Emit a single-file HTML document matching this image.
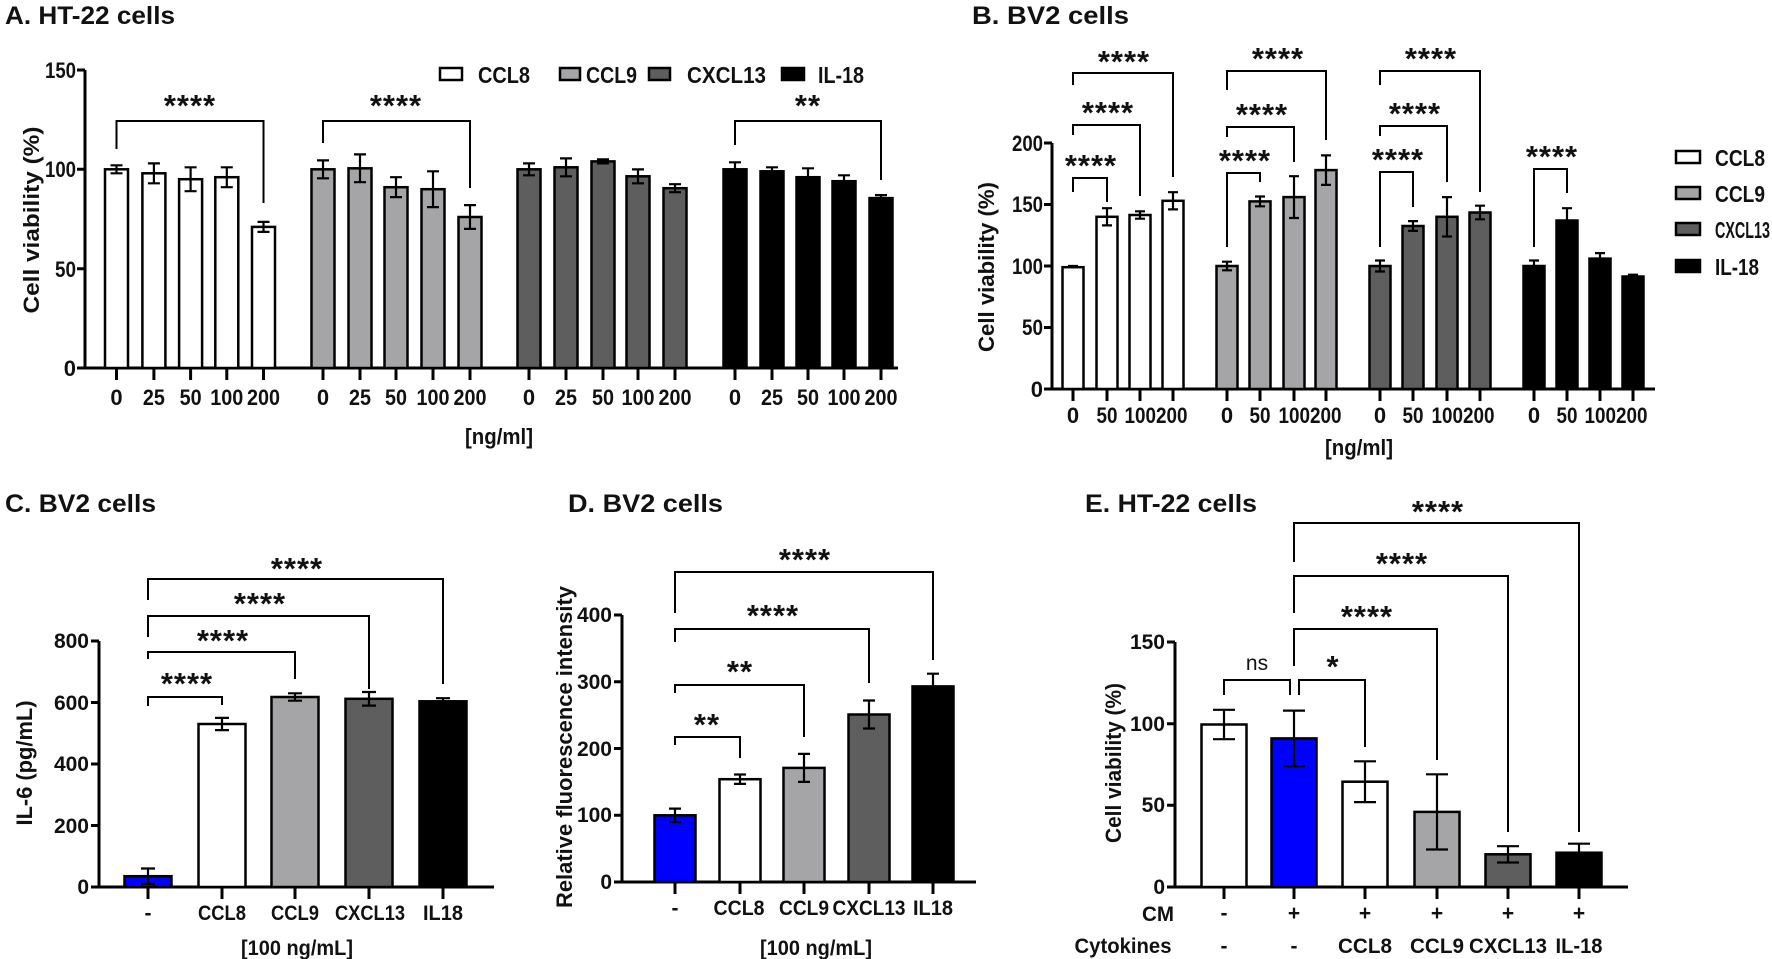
<!DOCTYPE html>
<html><head><meta charset="utf-8"><style>
html,body{margin:0;padding:0;background:#fff;}
svg{display:block;}
text{font-family:"Liberation Sans",sans-serif;font-weight:bold;fill:#111;}
.t{font-size:25px;}
.tk{font-size:22px;text-anchor:middle;}
.tk2{font-size:21px;text-anchor:middle;}
.yl{font-size:22px;text-anchor:end;}
.yl2{font-size:21px;text-anchor:end;}
.ax{font-size:22px;text-anchor:middle;}
.st{font-size:31px;letter-spacing:1px;text-anchor:middle;}
.lg{font-size:23px;}
line,path{stroke:#000;fill:none;}
.a{stroke-width:3;}
.b{stroke-width:2;}
.e{stroke-width:2.2;}
rect{stroke:#000;stroke-width:2.5;}
.w{fill:#fff}.g{fill:#a5a5a7}.d{fill:#5e5e5e}.k{fill:#000}.bl{fill:#0000ff}
</style></head><body>
<svg width="1772" height="959" viewBox="0 0 1772 959" xmlns="http://www.w3.org/2000/svg">
<!-- ===== Panel A ===== -->
<text class="t" x="5" y="24" textLength="170" lengthAdjust="spacingAndGlyphs">A.  HT-22 cells</text>
<path class="a" d="M85,70 V368 H898"/>
<path class="a" d="M77,70H85 M77,169.3H85 M77,268.7H85 M77,368H85"/>
<text class="yl" x="76" y="78" textLength="31" lengthAdjust="spacingAndGlyphs">150</text><text class="yl" x="76" y="177" textLength="31" lengthAdjust="spacingAndGlyphs">100</text><text class="yl" x="76" y="277" textLength="21" lengthAdjust="spacingAndGlyphs">50</text><text class="yl" x="76" y="376">0</text>
<text class="ax" transform="translate(39,220) rotate(-90)" textLength="187" lengthAdjust="spacingAndGlyphs">Cell viability (%)</text>
<rect class="w" x="105" y="169.3" width="23" height="198.7"/><rect class="w" x="142.4" y="173.3" width="23" height="194.7"/><rect class="w" x="179.1" y="179.2" width="23" height="188.8"/><rect class="w" x="215.3" y="177.2" width="23" height="190.8"/><rect class="w" x="252" y="226.9" width="23" height="141.1"/>
<rect class="g" x="311.5" y="169.3" width="23" height="198.7"/><rect class="g" x="348.5" y="168.3" width="23" height="199.7"/><rect class="g" x="384.5" y="187.2" width="23" height="180.8"/><rect class="g" x="421.5" y="189.2" width="23" height="178.8"/><rect class="g" x="458.5" y="217" width="23" height="151"/>
<rect class="d" x="517.5" y="169.3" width="23" height="198.7"/><rect class="d" x="554.5" y="167.3" width="23" height="200.7"/><rect class="d" x="591.5" y="161.4" width="23" height="206.6"/><rect class="d" x="626.5" y="176.3" width="23" height="191.7"/><rect class="d" x="663.5" y="188.2" width="23" height="179.8"/>
<rect class="k" x="723.5" y="169.3" width="23" height="198.7"/><rect class="k" x="760.5" y="171.3" width="23" height="196.7"/><rect class="k" x="796.5" y="177.2" width="23" height="190.8"/><rect class="k" x="832.5" y="181.2" width="23" height="186.8"/><rect class="k" x="869.5" y="198.1" width="23" height="169.9"/>
<path class="e" d="M116.5,165.3V173.3M110.5,165.3H122.5M110.5,173.3H122.5 M153.9,163.4V183.3M147.9,163.4H159.9M147.9,183.3H159.9 M190.6,167.3V191.2M184.6,167.3H196.6M184.6,191.2H196.6 M226.8,167.3V187.2M220.8,167.3H232.8M220.8,187.2H232.8 M263.5,221.9V231.9M257.5,221.9H269.5M257.5,231.9H269.5
M323,160.4V178.3M317,160.4H329M317,178.3H329 M360,154.4V182.2M354,154.4H366M354,182.2H366 M396,177.2V197.1M390,177.2H402M390,197.1H402 M433,171.3V207.1M427,171.3H439M427,207.1H439 M470,205.1V228.9M464,205.1H476M464,228.9H476
M529,163.4V175.3M523,163.4H535M523,175.3H535 M566,158.4V176.3M560,158.4H572M560,176.3H572 M603,159.4V163.4M597,159.4H609M597,163.4H609 M638,169.4V183.3M632,169.4H644M632,183.3H644 M675,184.2V192.2M669,184.2H681M669,192.2H681
M735,162.3V176.3M729,162.3H741 M772,167.3V175.3M766,167.3H778 M808,168.3V186.2M802,168.3H814 M844,175.3V187.2M838,175.3H850 M881,195.1V201.1M875,195.1H887"/>
<path class="a" d="M116.5,368V380M153.9,368V380M190.6,368V380M226.8,368V380M263.5,368V380M323,368V380M360,368V380M396,368V380M433,368V380M470,368V380M529,368V380M566,368V380M603,368V380M638,368V380M675,368V380M735,368V380M772,368V380M808,368V380M844,368V380M881,368V380"/>
<g class="tk"><text x="116.5" y="405">0</text><text x="153.9" y="405" textLength="22" lengthAdjust="spacingAndGlyphs">25</text><text x="190.6" y="405" textLength="22" lengthAdjust="spacingAndGlyphs">50</text><text x="226.8" y="405" textLength="33" lengthAdjust="spacingAndGlyphs">100</text><text x="263.5" y="405" textLength="33" lengthAdjust="spacingAndGlyphs">200</text>
<text x="323" y="405">0</text><text x="360" y="405" textLength="22" lengthAdjust="spacingAndGlyphs">25</text><text x="396" y="405" textLength="22" lengthAdjust="spacingAndGlyphs">50</text><text x="433" y="405" textLength="33" lengthAdjust="spacingAndGlyphs">100</text><text x="470" y="405" textLength="33" lengthAdjust="spacingAndGlyphs">200</text>
<text x="529" y="405">0</text><text x="566" y="405" textLength="22" lengthAdjust="spacingAndGlyphs">25</text><text x="603" y="405" textLength="22" lengthAdjust="spacingAndGlyphs">50</text><text x="638" y="405" textLength="33" lengthAdjust="spacingAndGlyphs">100</text><text x="675" y="405" textLength="33" lengthAdjust="spacingAndGlyphs">200</text>
<text x="735" y="405">0</text><text x="772" y="405" textLength="22" lengthAdjust="spacingAndGlyphs">25</text><text x="808" y="405" textLength="22" lengthAdjust="spacingAndGlyphs">50</text><text x="844" y="405" textLength="33" lengthAdjust="spacingAndGlyphs">100</text><text x="881" y="405" textLength="33" lengthAdjust="spacingAndGlyphs">200</text>
<text x="499" y="444" textLength="68" lengthAdjust="spacingAndGlyphs">[ng/ml]</text></g>
<path class="b" d="M116.5,149V121H263.5V203 M323,143V121H470V188 M735,145V121H881V180"/>
<text class="st" x="190" y="116">****</text><text class="st" x="396" y="116">****</text><text class="st" x="808" y="116">**</text>
<rect class="w" x="440" y="68" width="22" height="12"/><text class="lg" x="478" y="83" textLength="52" lengthAdjust="spacingAndGlyphs">CCL8</text>
<rect class="g" x="560" y="68" width="20" height="12"/><text class="lg" x="586" y="83" textLength="51" lengthAdjust="spacingAndGlyphs">CCL9</text>
<rect class="d" x="649" y="68" width="21" height="12"/><text class="lg" x="687" y="83" textLength="79" lengthAdjust="spacingAndGlyphs">CXCL13</text>
<rect class="k" x="782" y="68" width="22" height="12"/><text class="lg" x="818" y="83" textLength="46" lengthAdjust="spacingAndGlyphs">IL-18</text>

<!-- ===== Panel B ===== -->
<text class="t" x="972" y="24" textLength="157" lengthAdjust="spacingAndGlyphs">B.  BV2 cells</text>
<path class="a" d="M1052,143V389H1655"/>
<path class="a" d="M1044,143H1052M1044,204.5H1052M1044,266H1052M1044,327.5H1052M1044,389H1052"/>
<g class="yl"><text x="1043" y="151" textLength="31" lengthAdjust="spacingAndGlyphs">200</text><text x="1043" y="212" textLength="31" lengthAdjust="spacingAndGlyphs">150</text><text x="1043" y="274" textLength="31" lengthAdjust="spacingAndGlyphs">100</text><text x="1043" y="335" textLength="21" lengthAdjust="spacingAndGlyphs">50</text><text x="1043" y="397">0</text></g>
<text class="ax" transform="translate(994,267) rotate(-90)" textLength="170" lengthAdjust="spacingAndGlyphs">Cell viability (%)</text>
<rect class="w" x="1062.5" y="267.2" width="21" height="121.8"/><rect class="w" x="1096.5" y="216.8" width="21" height="172.2"/><rect class="w" x="1129.5" y="215" width="21" height="174"/><rect class="w" x="1162.5" y="200.8" width="21" height="188.2"/>
<rect class="g" x="1216.5" y="266" width="21" height="123"/><rect class="g" x="1249.5" y="201.4" width="21" height="187.6"/><rect class="g" x="1283.5" y="197.1" width="21" height="191.9"/><rect class="g" x="1315.5" y="170.1" width="21" height="218.9"/>
<rect class="d" x="1369.5" y="266" width="21" height="123"/><rect class="d" x="1402.5" y="226" width="21" height="163"/><rect class="d" x="1436.5" y="216.8" width="21" height="172.2"/><rect class="d" x="1469.5" y="212.5" width="21" height="176.5"/>
<rect class="k" x="1523.5" y="266" width="21" height="123"/><rect class="k" x="1556.5" y="220.5" width="21" height="168.5"/><rect class="k" x="1589.5" y="258.6" width="21" height="130.4"/><rect class="k" x="1622.5" y="276.5" width="21" height="112.5"/>
<path class="e" d="M1073,266V268.4M1068,266H1078 M1107,208.2V225.4M1102,208.2H1112M1102,225.4H1112 M1140,211.3V218.7M1135,211.3H1145M1135,218.7H1145 M1173,192.2V209.4M1168,192.2H1178M1168,209.4H1178
M1227,261.7V270.3M1222,261.7H1232M1222,270.3H1232 M1260,196.5V206.3M1255,196.5H1265M1255,206.3H1265 M1294,176.2V218M1289,176.2H1299M1289,218H1299 M1326,155.4V184.9M1321,155.4H1331M1321,184.9H1331
M1380,260.5V271.5M1375,260.5H1385M1375,271.5H1385 M1413,221.1V230.9M1408,221.1H1418M1408,230.9H1418 M1447,197.1V236.5M1442,197.1H1452M1442,236.5H1452 M1480,205.7V219.3M1475,205.7H1485M1475,219.3H1485
M1534,260.5V266M1529,260.5H1539 M1567,208.2V220.5M1562,208.2H1572 M1600,253.1V258.6M1595,253.1H1605 M1633,274.7V276.5M1628,274.7H1638"/>
<path class="a" d="M1073,389V401M1107,389V401M1140,389V401M1173,389V401M1227,389V401M1260,389V401M1294,389V401M1326,389V401M1380,389V401M1413,389V401M1447,389V401M1480,389V401M1534,389V401M1567,389V401M1600,389V401M1633,389V401"/>
<g class="tk"><text x="1073" y="423">0</text><text x="1107" y="423" textLength="21" lengthAdjust="spacingAndGlyphs">50</text><text x="1156" y="423" textLength="63" lengthAdjust="spacingAndGlyphs">100200</text>
<text x="1227" y="423">0</text><text x="1260" y="423" textLength="21" lengthAdjust="spacingAndGlyphs">50</text><text x="1310" y="423" textLength="63" lengthAdjust="spacingAndGlyphs">100200</text>
<text x="1380" y="423">0</text><text x="1413" y="423" textLength="21" lengthAdjust="spacingAndGlyphs">50</text><text x="1463" y="423" textLength="63" lengthAdjust="spacingAndGlyphs">100200</text>
<text x="1534" y="423">0</text><text x="1567" y="423" textLength="21" lengthAdjust="spacingAndGlyphs">50</text><text x="1616" y="423" textLength="63" lengthAdjust="spacingAndGlyphs">100200</text>
<text x="1359" y="455" textLength="68" lengthAdjust="spacingAndGlyphs">[ng/ml]</text></g>
<path class="b" d="M1073,192V178H1107V202 M1073,135V125H1140V196 M1073,85V73H1173V177
M1227,247V173H1260V182 M1227,137V127H1294V162 M1227,90V71H1326V140
M1380,247V172H1413V207 M1380,136V126H1447V182 M1380,85V71H1480V192
M1534,247V169H1567V193"/>
<g class="st"><text x="1091" y="176">****</text><text x="1108" y="123">****</text><text x="1124" y="72">****</text>
<text x="1245" y="171">****</text><text x="1262" y="125">****</text><text x="1278" y="69">****</text>
<text x="1398" y="170">****</text><text x="1415" y="124">****</text><text x="1431" y="69">****</text>
<text x="1552" y="167">****</text></g>
<rect class="w" x="1676" y="151" width="24" height="12"/><text class="lg" x="1715" y="166" textLength="50" lengthAdjust="spacingAndGlyphs">CCL8</text>
<rect class="g" x="1676" y="187" width="24" height="12"/><text class="lg" x="1715" y="202" textLength="50" lengthAdjust="spacingAndGlyphs">CCL9</text>
<rect class="d" x="1676" y="223" width="24" height="12"/><text class="lg" x="1715" y="238" textLength="55" lengthAdjust="spacingAndGlyphs">CXCL13</text>
<rect class="k" x="1676" y="260" width="24" height="12"/><text class="lg" x="1715" y="275" textLength="44" lengthAdjust="spacingAndGlyphs">IL-18</text>

<!-- ===== Panel C ===== -->
<text class="t" x="5" y="512" textLength="151" lengthAdjust="spacingAndGlyphs">C.  BV2 cells</text>
<path class="a" d="M99,641V887H494"/>
<path class="a" d="M91,641H99M91,702.5H99M91,764H99M91,825.5H99M91,887H99"/>
<g class="yl2"><text x="89" y="648">800</text><text x="89" y="710">600</text><text x="89" y="771">400</text><text x="89" y="833">200</text><text x="89" y="894">0</text></g>
<text class="ax" transform="translate(32,763) rotate(-90)" textLength="125" lengthAdjust="spacingAndGlyphs">IL-6 (pg/mL)</text>
<rect class="bl" x="124.5" y="876.2" width="47" height="10.8"/><rect class="w" x="198.5" y="724" width="47" height="163"/><rect class="g" x="271.5" y="697" width="47" height="190"/><rect class="d" x="345.5" y="698.8" width="47" height="188.2"/><rect class="k" x="419.5" y="701.3" width="47" height="185.7"/>
<path class="e" d="M148,868.5V883.9M141,868.5H155M141,883.9H155 M222,717.9V730.1M215,717.9H229M215,730.1H229 M295,693.3V700.7M288,693.3H302M288,700.7H302 M369,692V705.6M362,692H376M362,705.6H376 M443,698.2V701.3M436,698.2H450"/>
<path class="a" d="M148,887V899M222,887V899M295,887V899M369,887V899M443,887V899"/>
<g class="tk2"><text x="148" y="920">-</text><text x="222" y="920" textLength="48" lengthAdjust="spacingAndGlyphs">CCL8</text><text x="295" y="920" textLength="48" lengthAdjust="spacingAndGlyphs">CCL9</text><text x="370" y="920" textLength="70" lengthAdjust="spacingAndGlyphs">CXCL13</text><text x="443" y="920" textLength="40" lengthAdjust="spacingAndGlyphs">IL18</text><text x="297" y="955" textLength="112" lengthAdjust="spacingAndGlyphs">[100 ng/mL]</text></g>
<path class="b" d="M148,706V697H222V705 M148,659V652H295V679 M148,637V616H369V689 M148,600V579H443V684"/>
<g class="st"><text x="187" y="694">****</text><text x="223" y="651">****</text><text x="260" y="614">****</text><text x="297" y="579">****</text></g>

<!-- ===== Panel D ===== -->
<text class="t" x="568" y="512" textLength="155" lengthAdjust="spacingAndGlyphs">D.  BV2 cells</text>
<path class="a" d="M622,615V882H976"/>
<path class="a" d="M614,615H622M614,681.75H622M614,748.5H622M614,815.25H622M614,882H622"/>
<g class="yl2"><text x="612" y="622">400</text><text x="612" y="689">300</text><text x="612" y="756">200</text><text x="612" y="822">100</text><text x="612" y="889">0</text></g>
<text class="ax" transform="translate(572,747) rotate(-90)" textLength="322" lengthAdjust="spacingAndGlyphs">Relative fluorescence intensity</text>
<rect class="bl" x="654.5" y="815.3" width="41" height="66.7"/><rect class="w" x="719.5" y="779.2" width="41" height="102.8"/><rect class="g" x="783.5" y="767.9" width="41" height="114.1"/><rect class="d" x="848.5" y="714.5" width="41" height="167.5"/><rect class="k" x="912.5" y="686.4" width="41" height="195.6"/>
<path class="e" d="M675,808.6V822M669,808.6H681M669,822H681 M740,774.5V783.9M734,774.5H746M734,783.9H746 M804,753.9V781.9M798,753.9H810M798,781.9H810 M869,700.5V728.5M863,700.5H875M863,728.5H875 M933,673.7V686.4M927,673.7H939"/>
<path class="a" d="M675,882V894M740,882V894M804,882V894M869,882V894M933,882V894"/>
<g class="tk2"><text x="675" y="915">-</text><text x="739" y="915" textLength="51" lengthAdjust="spacingAndGlyphs">CCL8</text><text x="804" y="915" textLength="50" lengthAdjust="spacingAndGlyphs">CCL9</text><text x="869" y="915" textLength="73" lengthAdjust="spacingAndGlyphs">CXCL13</text><text x="933" y="915" textLength="40" lengthAdjust="spacingAndGlyphs">IL18</text><text x="816" y="955" textLength="112" lengthAdjust="spacingAndGlyphs">[100 ng/mL]</text></g>
<path class="b" d="M675,745V737H740V758 M675,693V685H804V737 M675,642V629H869V683 M675,613V572H933V660"/>
<g class="st"><text x="707" y="735">**</text><text x="740" y="682">**</text><text x="773" y="626">****</text><text x="805" y="570">****</text></g>

<!-- ===== Panel E ===== -->
<text class="t" x="1085" y="512" textLength="172" lengthAdjust="spacingAndGlyphs">E.  HT-22 cells</text>
<path class="a" d="M1175,642V887H1628"/>
<path class="a" d="M1167,642H1175M1167,723.7H1175M1167,805.3H1175M1167,887H1175"/>
<g class="yl2"><text x="1165" y="649">150</text><text x="1165" y="731">100</text><text x="1165" y="812">50</text><text x="1165" y="894">0</text></g>
<text class="ax" transform="translate(1121,763) rotate(-90)" textLength="160" lengthAdjust="spacingAndGlyphs">Cell viability (%)</text>
<rect class="w" x="1201.5" y="724.5" width="45" height="162.5"/><rect class="bl" x="1271.5" y="738.4" width="45" height="148.6"/><rect class="w" x="1342.5" y="781.7" width="45" height="105.3"/><rect class="g" x="1414.5" y="811.9" width="45" height="75.1"/><rect class="d" x="1485.5" y="854.3" width="45" height="32.7"/><rect class="k" x="1556.5" y="852.7" width="45" height="34.3"/>
<path class="e" d="M1224,709.8V739.2M1213,709.8H1235M1213,739.2H1235 M1294,710.6V766.2M1283,710.6H1305M1283,766.2H1305 M1365,761.3V802.1M1354,761.3H1376M1354,802.1H1376 M1437,774.3V849.5M1426,774.3H1448M1426,849.5H1448 M1508,846.2V862.5M1497,846.2H1519M1497,862.5H1519 M1579,843.7V852.7M1568,843.7H1590"/>
<path class="a" d="M1224,887V899M1294,887V899M1365,887V899M1437,887V899M1508,887V899M1579,887V899"/>
<g class="tk2"><text x="1158" y="921" textLength="32" lengthAdjust="spacingAndGlyphs">CM</text><text x="1224" y="920">-</text><text x="1294" y="920">+</text><text x="1365" y="920">+</text><text x="1437" y="920">+</text><text x="1508" y="920">+</text><text x="1579" y="920">+</text>
<text x="1123" y="953" textLength="97" lengthAdjust="spacingAndGlyphs">Cytokines</text><text x="1224" y="953">-</text><text x="1294" y="953">-</text><text x="1365" y="953" textLength="54" lengthAdjust="spacingAndGlyphs">CCL8</text><text x="1437" y="953" textLength="54" lengthAdjust="spacingAndGlyphs">CCL9</text><text x="1508" y="953" textLength="78" lengthAdjust="spacingAndGlyphs">CXCL13</text><text x="1579" y="953" textLength="47" lengthAdjust="spacingAndGlyphs">IL-18</text></g>
<path class="b" d="M1224,695V680H1290V695 M1299,695V680H1365V747 M1294,666V629H1437V760 M1294,613V576H1508V832 M1294,562V523H1579V832"/>
<text x="1257" y="670" style="font-weight:normal;font-size:21px;text-anchor:middle">ns</text>
<g class="st"><text x="1333" y="677">*</text><text x="1367" y="627">****</text><text x="1402" y="574">****</text><text x="1438" y="522">****</text></g>
</svg>
</body></html>
